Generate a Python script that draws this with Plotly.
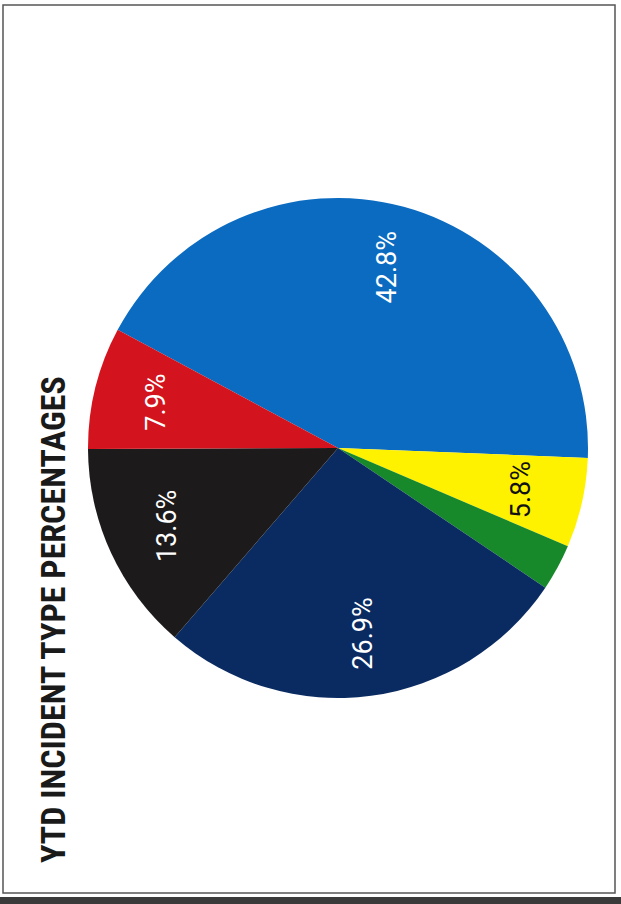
import math
import plotly.graph_objects as go

# Data
labels = ["Blue", "Yellow", "Green", "Navy", "Black", "Red"]
values = [42.8, 5.8, 3.0, 26.9, 13.6, 7.9]
colors = ["#0b6bc1", "#fff200", "#17892b", "#0a2b62", "#1d1a1b", "#d3131d"]
text_colors = ["white", "#111111", "white", "white", "white", "white"]
show_label = [True, True, False, True, True, True]
title_text = "YTD INCIDENT TYPE PERCENTAGES"

W, H = 621, 904
CX, CY, R = 338, 448, 250
ROTATION = -61.8

fig = go.Figure()
fig.add_trace(go.Pie(
    labels=labels,
    values=values,
    sort=False,
    direction="clockwise",
    rotation=ROTATION,
    marker=dict(colors=colors, line=dict(width=0)),
    textinfo="none",
    hoverinfo="label+percent",
    showlegend=False,
    domain=dict(x=[(CX - R) / W, (CX + R) / W], y=[1 - (CY + R) / H, 1 - (CY - R) / H]),
))

total = sum(values)
cum = 0.0
annotations = []
for v, tc, show in zip(values, text_colors, show_label):
    mid = cum + v / 2
    cum += v
    if not show:
        continue
    theta = math.radians(ROTATION + 360 * mid / total)
    px = CX + 0.75 * R * math.sin(theta)
    py = CY - 0.75 * R * math.cos(theta)
    annotations.append(dict(
        x=px / W, y=1 - py / H, xref="paper", yref="paper",
        xanchor="center", yanchor="middle",
        text=f"{v:.1f}%", showarrow=False, textangle=-90,
        font=dict(family="Roboto, Open Sans, sans-serif", size=27, color=tc),
    ))

annotations.append(dict(
    x=53 / W, y=1 - 620 / H, xref="paper", yref="paper",
    xanchor="center", yanchor="middle",
    text=f"<b>{title_text}</b>", showarrow=False, textangle=-90,
    font=dict(family="Liberation Sans Narrow, Roboto Condensed, DejaVu Sans Condensed, Arial Narrow, sans-serif",
              size=34, color="#1a1a1a"),
))

shapes = [
    dict(type="rect", xref="paper", yref="paper",
         x0=3 / W, x1=615 / W, y0=1 - 893 / H, y1=1 - 5 / H,
         line=dict(color="#555555", width=1.5), fillcolor="rgba(0,0,0,0)"),
    dict(type="rect", xref="paper", yref="paper",
         x0=0, x1=1, y0=0, y1=1 - 897 / H,
         line=dict(width=0), fillcolor="#3a3a3a"),
]

fig.update_layout(
    width=W, height=H,
    margin=dict(l=0, r=0, t=0, b=0),
    paper_bgcolor="white",
    plot_bgcolor="white",
    annotations=annotations,
    shapes=shapes,
)

fig.write_html(
    "out.html",
    config={"displayModeBar": False},
    post_script="document.body.style.margin='0';document.body.style.padding='0';document.body.style.overflow='hidden';",
)
